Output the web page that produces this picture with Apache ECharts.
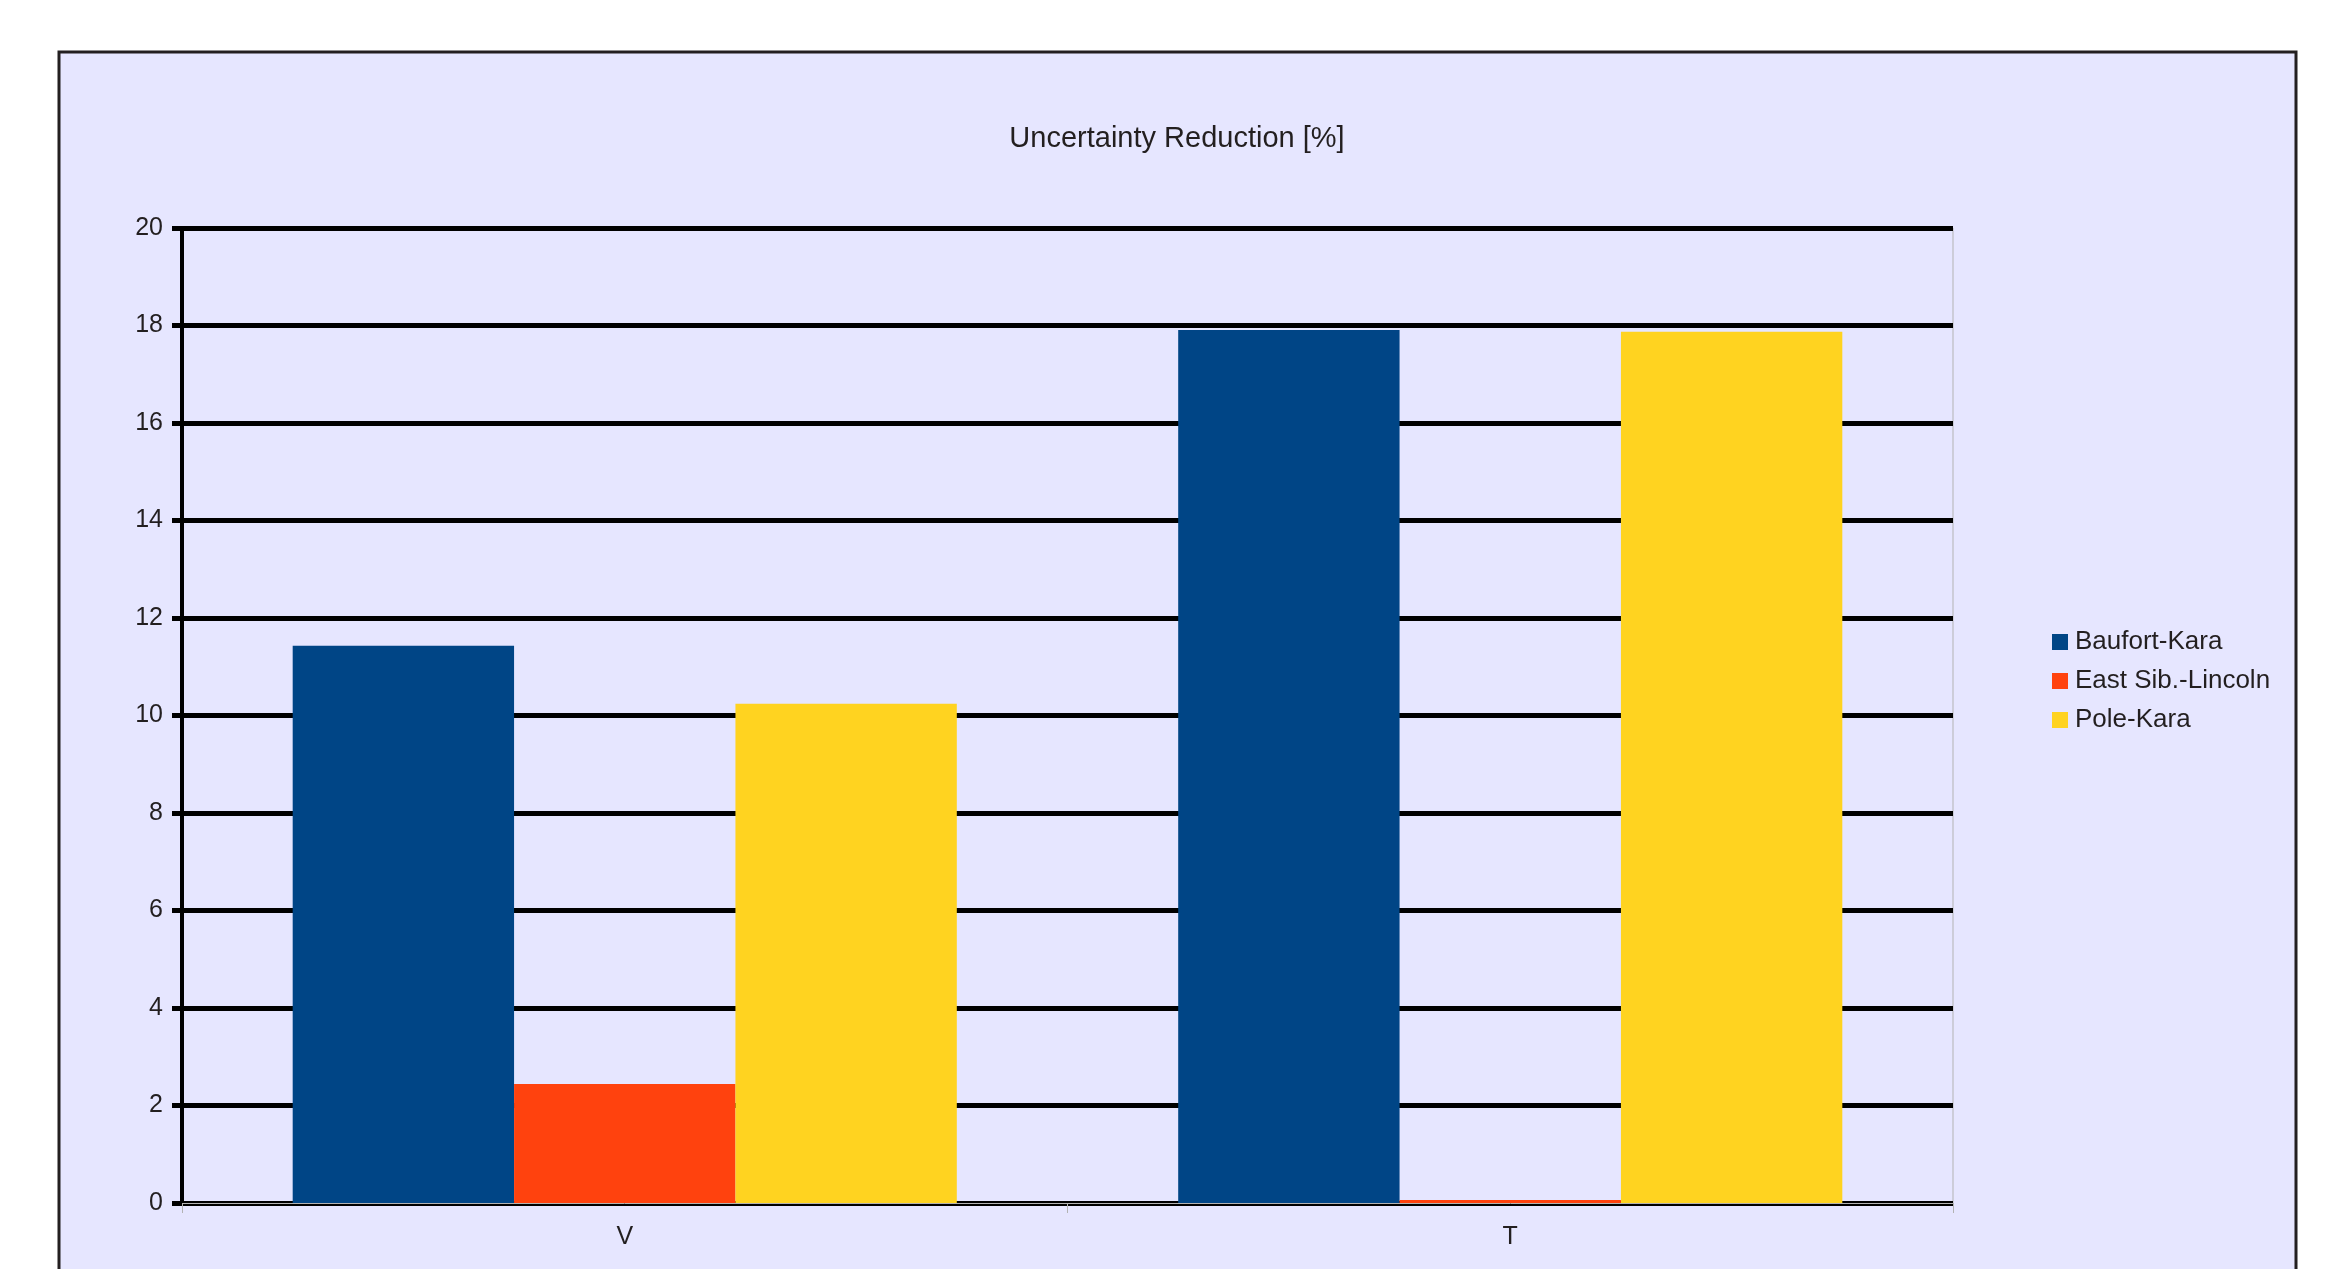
<!DOCTYPE html>
<html>
<head>
<meta charset="utf-8">
<title>Uncertainty Reduction</title>
<script type="text/javascript" src="https://cdn.jsdelivr.net/npm/echarts@6/dist/echarts.min.js"></script>
<style>
  html, body { margin: 0; padding: 0; background: #ffffff; }
</style>
</head>
<body>
<div id="main" style="width: 2332px; height: 1269px;"></div>
<script type="text/javascript">
// categories and values
var categories = ['V', 'T'];
var baufortKara = [11.43, 17.91];
var eastSibLincoln = [2.44, 0.06];
var poleKara = [10.24, 17.87];
var seriesNames = ['Baufort-Kara', 'East Sib.-Lincoln', 'Pole-Kara'];
var yTicks = { min: 0, max: 20, interval: 2 };

var chart = echarts.init(document.getElementById('main'));
var font = 'Liberation Sans, Arial, sans-serif';
var ink = '#231f20';

function bar(name, data, color) {
  return {
    name: name,
    type: 'bar',
    data: data,
    barGap: '0%',
    barCategoryGap: '25%',
    itemStyle: { color: color },
    z: 3
  };
}

var option = {
  backgroundColor: '#ffffff',
  animation: false,
  graphic: {
    elements: [{
      // outer chart frame
      type: 'rect',
      z: -10,
      shape: { x: 59, y: 52, width: 2237, height: 1300 },
      style: { fill: '#e6e6ff', stroke: ink, lineWidth: 3 }
    }]
  },
  title: {
    text: 'Uncertainty Reduction [%]',
    left: 1177,
    textAlign: 'center',
    top: 124,
    padding: 0,
    textStyle: { fontFamily: font, fontSize: 29, fontWeight: 'normal', color: ink }
  },
  legend: {
    orient: 'vertical',
    left: 2052,
    top: 629,
    padding: 0,
    icon: 'rect',
    itemWidth: 16,
    itemHeight: 16,
    itemGap: 13,
    data: seriesNames,
    textStyle: { fontFamily: font, fontSize: 26, color: ink, padding: [0, 0, 0, 2] }
  },
  grid: {
    left: 182,
    right: 379,
    top: 228,
    bottom: 66,
    show: true,
    backgroundColor: 'transparent',
    borderColor: '#b3b3b3',
    borderWidth: 1
  },
  xAxis: {
    type: 'category',
    data: categories,
    axisLine: { show: true, lineStyle: { color: '#b3b3b3', width: 1 } },
    axisTick: { show: true, length: 10, lineStyle: { color: '#b3b3b3', width: 1 } },
    axisLabel: { fontFamily: font, fontSize: 25, color: ink, margin: 22 },
    splitLine: { show: false }
  },
  yAxis: {
    type: 'value',
    min: yTicks.min,
    max: yTicks.max,
    interval: yTicks.interval,
    axisLine: { show: true, lineStyle: { color: '#000000', width: 4 } },
    axisTick: { show: true, length: 10, lineStyle: { color: '#000000', width: 5 } },
    axisLabel: { fontFamily: font, fontSize: 25, color: ink, margin: 19 },
    splitLine: { show: true, lineStyle: { color: '#000000', width: 5 } }
  },
  series: [
    bar(seriesNames[0], baufortKara, '#004586'),
    bar(seriesNames[1], eastSibLincoln, '#ff420e'),
    bar(seriesNames[2], poleKara, '#ffd320')
  ]
};

chart.setOption(option);
</script>
</body>
</html>
